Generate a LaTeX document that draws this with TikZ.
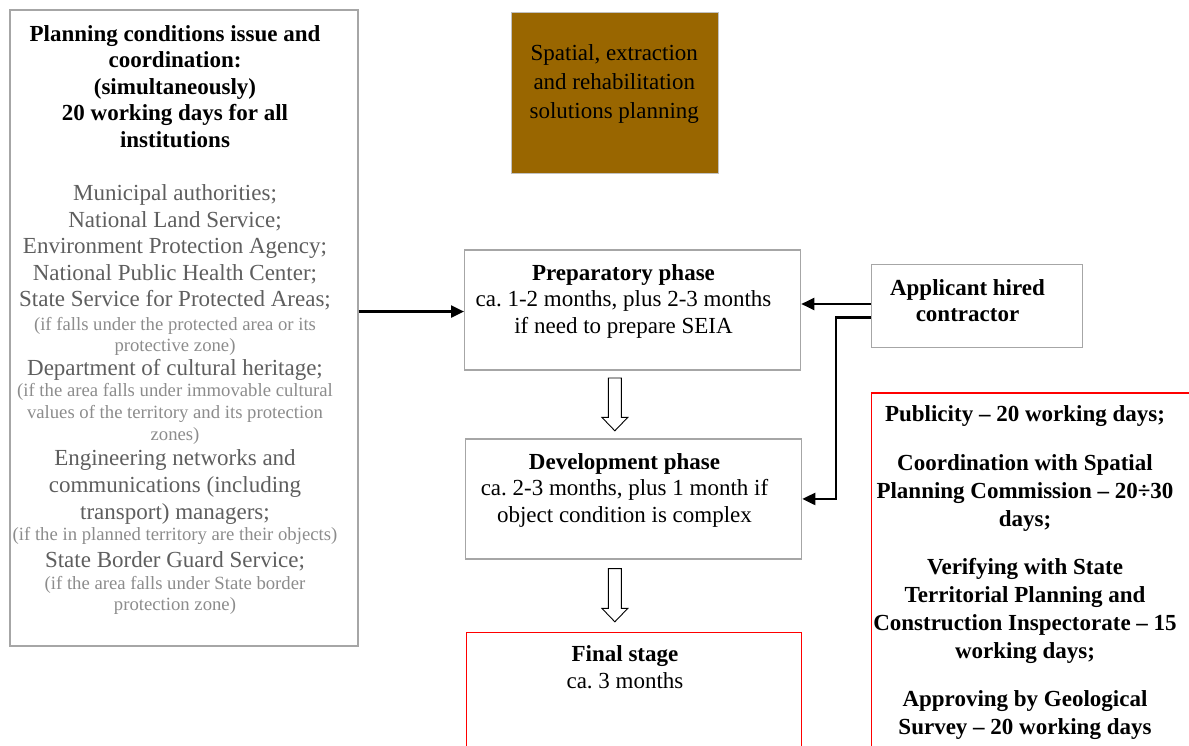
\documentclass[tikz,border=0pt]{standalone}
\usepackage{fontspec}
\setmainfont{Liberation Serif}
\usetikzlibrary{arrows.meta,calc}
\definecolor{boxgray}{HTML}{A6A6A6}
\definecolor{ochre}{HTML}{996600}
\definecolor{listgray}{HTML}{5E5E5E}
\definecolor{notegray}{HTML}{8C8C8C}
\newcommand{\bigtxt}{\fontsize{23}{26.5}\selectfont\frenchspacing}
\newcommand{\notetxt}{\fontsize{18.7}{21.8}\selectfont}
\begin{document}
\begin{tikzpicture}[x=1pt,y=-1pt,
  frame/.style={draw=boxgray, line width=1.3pt, inner sep=0pt},
  redframe/.style={draw=red, line width=1.3pt, inner sep=0pt},
  txt/.style={inner sep=0pt, align=flush center, anchor=base, font=\bigtxt},
  link/.style={line width=2.2pt, -{Triangle[length=13pt,width=12pt]}},
  hollow/.style={draw=black, line width=0.9pt, fill=white, line join=miter},
]
\useasboundingbox (0,0) rectangle (1189,746);
\clip (0,0) rectangle (1189,746);

% ---- boxes ----
\node[frame, minimum width=348, minimum height=636, anchor=north west] (conds) at (9.3,9.3) {};
\node[draw=boxgray!70, fill=ochre, line width=1pt, minimum width=207.3, minimum height=161.6,
      anchor=north west] (plan) at (510.7,11.7) {};
\node[frame, minimum width=336, minimum height=120, anchor=north west] (prep) at (464,249.3) {};
\node[frame, minimum width=336, minimum height=120, anchor=north west] (dev) at (465,438.3) {};
\node[redframe, minimum width=335.3, minimum height=150, anchor=north west] (final) at (465.7,632) {};
\node[frame, minimum width=211, minimum height=82.7, anchor=north west] (appl) at (870.7,264) {};
\node[redframe, minimum width=340, minimum height=400, anchor=north west] (rules) at (870.7,392.3) {};

% ---- texts ----
\node[txt, text width=345] (condstext) at (175,41.5) {%
  {\bfseries Planning conditions issue and\\ coordination:\\ (simultaneously)\\
   20 working days for all\\ institutions\par}
  \vspace{26.8pt}
  \color{listgray}
  Municipal authorities;\\ National Land Service;\\ Environment Protection Agency;\\
  National Public Health Center;\\ State Service for Protected Areas;\par
  \vspace{1.5pt}
  {\notetxt\leavevmode\color{notegray}(if falls under the protected area or its\\ protective zone)\par}
  \vspace{-3.2pt}
  Department of cultural heritage;\par
  {\notetxt\leavevmode\color{notegray}(if the area falls under immovable cultural\\
   values of the territory and its protection\\ zones)\par}
  \vspace{-2.5pt}
  {\fontsize{23}{27}\selectfont Engineering networks and\\ communications (including\\ transport) managers;\par}
  {\notetxt\leavevmode\color{notegray}(if the in planned territory are their objects)\par}
  State Border Guard Service;\par
  {\notetxt\leavevmode\color{notegray}(if the area falls under State border\\ protection zone)\par}
};

\node[txt, text width=200, font=\fontsize{23}{28.8}\selectfont] (plantext) at (614.3,60.7)
  {Spatial, extraction\\ and rehabilitation\\ solutions planning};

\node[txt, text width=330] (preptext) at (623.5,280)
  {\textbf{Preparatory phase}\\ ca. 1-2 months, plus 2-3 months\\ if need to prepare SEIA};
\node[txt, text width=330] (devtext) at (624.5,469.3)
  {\textbf{Development phase}\\ ca. 2-3 months, plus 1 month if\\ object condition is complex};
\node[txt, text width=330] (finaltext) at (625,661.7)
  {\textbf{Final stage}\\ ca. 3 months};
\node[txt, text width=200, font=\bfseries\fontsize{23}{26.7}\selectfont] (appltext) at (967.5,295)
  {Applicant hired\\ contractor};

\node[txt, text width=320, font=\bfseries\fontsize{23}{28}\selectfont] (rulestext) at (1025,421.7) {%
  Publicity -- 20 working days;\par\vspace{20.3pt}
  Coordination with Spatial\\ Planning Commission -- 20÷30\\ days;\par\vspace{20.3pt}
  Verifying with State\\ Territorial Planning and\\ Construction Inspectorate -- 15\\ working days;\par\vspace{20.3pt}
  Approving by Geological\\ Survey -- 20 working days\par
};

% ---- connectors ----
\draw[link] ($(conds.east |- prep.west)+(0,1.6)$) -- ($(prep.west)+(0,1.6)$);
\coordinate (a1) at ($(appl.west)+(0,-2)$);
\coordinate (a2) at ($(appl.west)+(0,11.4)$);
\draw[link] (a1) -- (a1 -| prep.east);
\draw[link] (a2) -| ($(dev.east)+(33.3,0)$) -- (dev.east);

% hollow block arrows between the phases
\draw[hollow] ($(prep.south -| plan.south)+(-6.5,7.4)$) -- ++(0,39.3) -- ++(-6.5,0)
  -- ++(13,13.5) -- ++(13,-13.5) -- ++(-6.5,0) -- ++(0,-39.3) -- cycle;
\draw[hollow] ($(dev.south -| plan.south)+(-6.5,9)$) -- ++(0,39.7) -- ++(-6.5,0)
  -- ++(13,13.5) -- ++(13,-13.5) -- ++(-6.5,0) -- ++(0,-39.7) -- cycle;
\end{tikzpicture}
\end{document}
